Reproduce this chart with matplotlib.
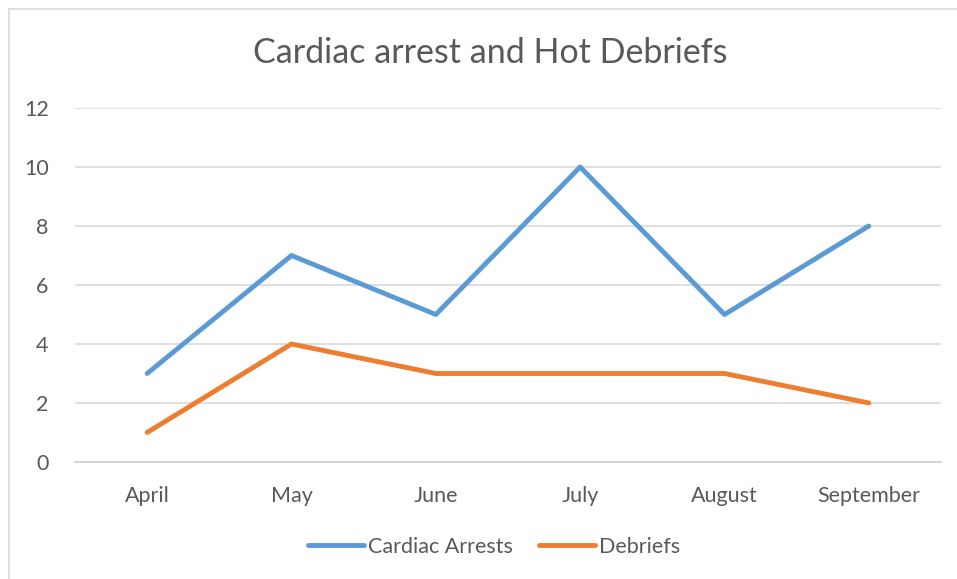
import matplotlib.pyplot as plt
import numpy as np

months = ['April', 'May', 'June', 'July', 'August', 'September']
cardiac_arrests = [3, 7, 5, 10, 5, 8]
debriefs = [1, 4, 3, 3, 3, 2]
y_ticks = [0, 2, 4, 6, 8, 10, 12]

plt.rcParams['font.family'] = ['Lato', 'DejaVu Sans']

W, H = 957, 579
fig = plt.figure(figsize=(W / 100, H / 100), dpi=100)

# chart frame (top and left edges visible)
fig.add_artist(plt.Line2D([9 / W, 1], [1 - 9 / H, 1 - 9 / H], color='#d9d9d9', lw=1.2))
fig.add_artist(plt.Line2D([9 / W, 9 / W], [1 - 9 / H, 0], color='#d9d9d9', lw=1.2))

ax = fig.add_axes([75 / W, 1 - 462 / H, (941 - 75) / W, (462 - 108) / H])
x = np.arange(len(months))
ax.plot(x, cardiac_arrests, color='#5b9bd5', lw=3.5, label='Cardiac Arrests', solid_capstyle='round')
ax.plot(x, debriefs, color='#ed7d31', lw=3.5, label='Debriefs', solid_capstyle='round')

ax.set_xlim(-0.5, len(months) - 0.5)
ax.set_ylim(0, 12)
ax.set_yticks(y_ticks)
ax.set_xticks(x)
ax.set_xticklabels(months)
ax.grid(axis='y', color='#d9d9d9', lw=1.2)
ax.set_axisbelow(True)
for s in ['top', 'right', 'left']:
    ax.spines[s].set_visible(False)
ax.spines['bottom'].set_color('#d0d0d0')
ax.spines['bottom'].set_linewidth(1.2)
ax.tick_params(axis='both', length=0, labelsize=15.5, colors='#595959')
ax.tick_params(axis='x', pad=17)
ax.tick_params(axis='y', pad=19)

fig.text(490 / W, 1 - 53 / H, 'Cardiac arrest and Hot Debriefs', ha='center', va='center',
         fontsize=24.5, color='#595959')

leg = fig.legend(loc='center', bbox_to_anchor=(494 / W, 1 - 547 / H), ncol=2, frameon=False,
                 fontsize=15.5, handlelength=2.6, handletextpad=0.2, columnspacing=1.2)
for t in leg.get_texts():
    t.set_color('#595959')

fig.savefig('out.png', dpi=100)
